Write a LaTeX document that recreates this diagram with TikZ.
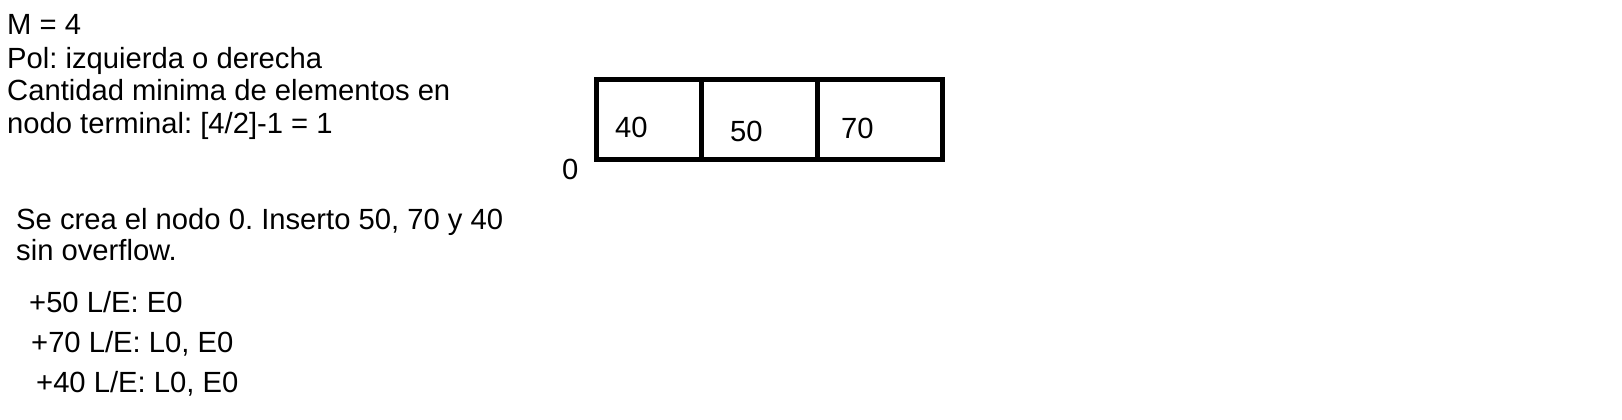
\documentclass[tikz,border=0pt]{standalone}
\usepackage{fontspec}
\setmainfont{Liberation Sans}
\frenchspacing
\begin{document}
\begin{tikzpicture}[x=1pt,y=-1pt,
  txt/.style={anchor=base west,inner sep=0pt,font=\fontsize{29.2}{33}\selectfont},
  cell/.style={draw,line width=5pt,minimum height=80pt,inner sep=0pt}]
\useasboundingbox (0,0) rectangle (1622,420);
\node[txt] (l1) at (7,35) {M = 4};
\node[txt] (l2) at (7,68) {Pol: izquierda o derecha};
\node[txt] (l3) at (7,100) {Cantidad minima de elementos en};
\node[txt] (l4) at (7,133) {nodo terminal: [4/2]-1 = 1};
\node[cell,minimum width=105pt] (c1) at (649,119.5) {};
\node[cell,minimum width=116pt] (c2) at (759.5,119.5) {};
\node[cell,minimum width=124.5pt] (c3) at (879.75,119.5) {};
\node[txt] (v1) at (615,137) {40};
\node[txt] (v2) at (730,141) {50};
\node[txt] (v3) at (841,138) {70};
\node[txt] (n0) at (562,179) {0};
\node[txt] (s1) at (16,229) {Se crea el nodo 0. Inserto 50, 70 y 40};
\node[txt] (s2) at (16,260) {sin overflow.};
\node[txt] (p1) at (29,312) {+50 L/E: E0};
\node[txt] (p2) at (31,352) {+70 L/E: L0, E0};
\node[txt] (p3) at (36,392) {+40 L/E: L0, E0};
\end{tikzpicture}
\end{document}
